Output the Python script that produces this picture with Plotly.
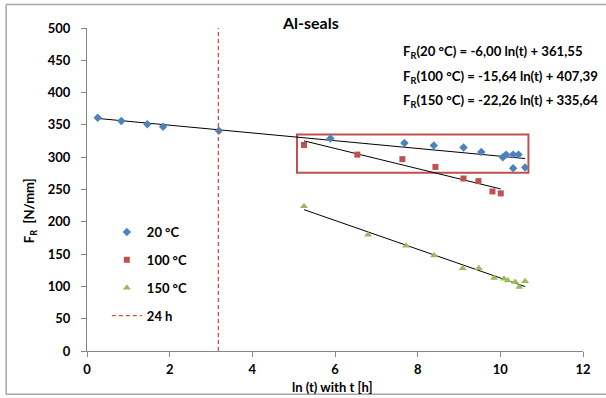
import numpy as np
import plotly.graph_objects as go

# ---- data ----
x20 = [0.26, 0.83, 1.46, 1.84, 3.19, 5.89, 7.68, 8.39, 9.11, 9.54, 10.06, 10.14, 10.31, 10.44, 10.31, 10.60]
y20 = [361, 356, 351, 347, 341, 329, 322, 318, 315, 308, 300, 304, 304, 304, 283, 284]

x100 = [5.25, 6.54, 7.63, 8.43, 9.11, 9.47, 9.81, 10.01]
y100 = [319, 304, 297, 285, 267, 263, 247, 244]

x150 = [5.25, 6.80, 7.72, 8.40, 9.09, 9.48, 9.85, 10.09, 10.18, 10.36, 10.46, 10.60]
y150 = [224, 180, 163, 148, 128, 128, 113, 112, 109, 107, 99, 108]

# fit coefficients (slope, intercept) as given in the chart
fit20 = (-6.00, 361.55)
fit100 = (-15.64, 407.39)
fit150 = (-22.26, 335.64)

t24 = np.log(24.0)
equations = [
    "F<sub>R</sub>(20 °C) = -6,00 ln(t) + 361,55",
    "F<sub>R</sub>(100 °C) = -15,64 ln(t) + 407,39",
    "F<sub>R</sub>(150 °C) = -22,26 ln(t) + 335,64",
]
x_ticks = [0, 2, 4, 6, 8, 10, 12]
y_ticks = [0, 50, 100, 150, 200, 250, 300, 350, 400, 450, 500]
box_x = (5.08, 10.68)
box_y = (276, 335)

BLUE = "#4F81BD"
RED = "#C0504D"
GREEN = "#9BBB59"
FONT = "Lato"

fig = go.Figure()

def fit_line(xs, coef):
    xs = np.array([min(xs), max(xs)])
    return xs, coef[0] * xs + coef[1]

for xs, coef in [(x20, fit20), (x100, fit100), (x150, fit150)]:
    lx, ly = fit_line(xs, coef)
    fig.add_trace(go.Scatter(x=lx, y=ly, mode="lines", line=dict(color="black", width=1),
                             showlegend=False, hoverinfo="skip"))

fig.add_trace(go.Scatter(x=x20, y=y20, mode="markers", name="20 °C", legendgroup="a",
                         marker=dict(symbol="diamond", size=6.5, color=BLUE)))
fig.add_trace(go.Scatter(x=x100, y=y100, mode="markers", name="100 °C", legendgroup="b",
                         marker=dict(symbol="square", size=6, color=RED)))
fig.add_trace(go.Scatter(x=x150, y=y150, mode="markers", name="150 °C", legendgroup="c",
                         marker=dict(symbol="triangle-up", size=7, color=GREEN)))
fig.add_trace(go.Scatter(x=[t24, t24], y=[0, 500], mode="lines", name="24 h", legendgroup="d",
                         line=dict(color="#DD4B48", width=1.3, dash="4px,3px")))

fig.add_shape(type="rect", x0=box_x[0], x1=box_x[1], y0=box_y[0], y1=box_y[1],
              line=dict(color=RED, width=2), layer="below")

# outer frame: left, top and bottom edges (the right edge lies outside the picture)
FL, FR, FB, FT = -0.163, 1.08, -0.134, 1.073
frame = dict(color="#A6A6A6", width=1.5)
fig.add_shape(type="line", xref="paper", yref="paper", x0=FL, x1=FL, y0=FB, y1=FT, line=frame)
fig.add_shape(type="line", xref="paper", yref="paper", x0=FL, x1=FR, y0=FT, y1=FT, line=frame)
fig.add_shape(type="line", xref="paper", yref="paper", x0=FL, x1=FR, y0=FB, y1=FB, line=frame)

for i, eq in enumerate(equations):
    fig.add_annotation(xref="paper", yref="paper", x=0.633, y=0.925 - i * 0.076,
                       xanchor="left", yanchor="middle", showarrow=False,
                       text=eq, font=dict(family=FONT, size=13.2, color="black", weight="bold"))

fig.add_annotation(xref="paper", yref="paper", x=0.45, y=1.018, showarrow=False,
                   xanchor="center", yanchor="middle",
                   text="Al-seals", font=dict(family=FONT, size=16, color="black", weight="bold"))
fig.add_annotation(xref="paper", yref="paper", x=0.494, y=-0.112, showarrow=False,
                   xanchor="center", yanchor="middle",
                   text="ln (t) with t [h]", font=dict(family=FONT, size=13, color="black", weight="bold"))
fig.add_annotation(xref="paper", yref="paper", x=-0.115, y=0.436, showarrow=False,
                   xanchor="center", yanchor="middle", textangle=-90,
                   text="F<sub>R</sub>  [N/mm]", font=dict(family=FONT, size=13, color="black", weight="bold"))

fig.update_layout(
    width=606, height=398,
    margin=dict(l=87, r=23, t=28, b=47, pad=0),
    paper_bgcolor="white", plot_bgcolor="white",
    font=dict(family=FONT, size=13, color="black"),
    showlegend=True,
    legend=dict(x=0.04, y=0.415, xanchor="left", yanchor="top", bgcolor="rgba(0,0,0,0)",
                tracegroupgap=8, font=dict(family=FONT, size=13, color="black", weight="bold"),
                itemwidth=30),
)
tf = dict(family=FONT, size=13, color="black", weight="bold")
fig.update_xaxes(range=[0, 12], tickvals=x_ticks,
                 showgrid=False, zeroline=False, showline=True, linecolor="#868686", linewidth=1,
                 ticks="outside", ticklen=5, tickcolor="#868686", ticklabelstandoff=1,
                 tickfont=tf)
fig.update_yaxes(range=[0, 500], tickvals=y_ticks,
                 showgrid=False, zeroline=False, showline=True, linecolor="#868686", linewidth=1,
                 ticks="outside", ticklen=5, tickcolor="#868686", ticklabelstandoff=8,
                 tickfont=tf)

fig.write_html("out.html", config={"displayModeBar": False},
               post_script="document.body.style.margin='0px';document.body.style.padding='0px';")
